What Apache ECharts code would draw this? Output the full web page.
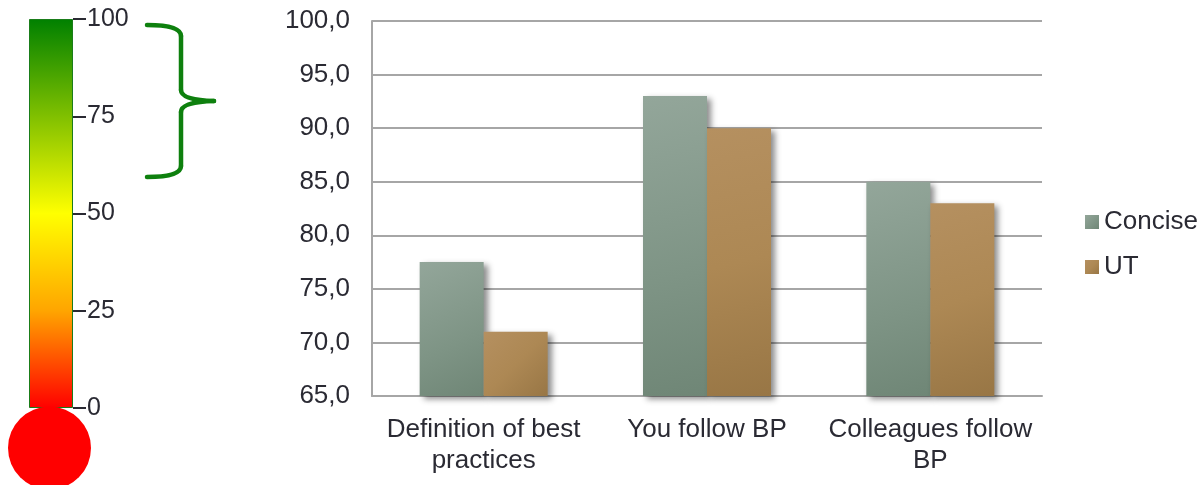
<!DOCTYPE html>
<html>
<head>
<meta charset="utf-8">
<style>
  html, body { margin: 0; padding: 0; background: #fff; }
  #chart { width: 1200px; height: 485px; }
</style>
<script src="https://cdn.jsdelivr.net/npm/echarts@6/dist/echarts.min.js"></script>
</head>
<body>
<div id="chart"></div>
<script>
// Survey scores per question, two groups
const categories = ['Definition of best\npractices', 'You follow BP', 'Colleagues follow\nBP'];
const conciseValues = [77.5, 93.0, 85.0];
const utValues = [71.0, 90.0, 83.0];
const seriesNames = ['Concise', 'UT'];

// Score thermometer scale
const gaugeTicks = [0, 25, 50, 75, 100];
const gaugeValue = [100];

const FONT = '"Liberation Sans", Arial, sans-serif';
const TEXT = '#2a2a33';
const chart = echarts.init(document.getElementById('chart'));

const conciseFill = new echarts.graphic.LinearGradient(0, 0, 1, 1, [
  { offset: 0, color: '#93a69a' },
  { offset: 0.6, color: '#7e9485' },
  { offset: 1, color: '#6f8676' }
]);
const utFill = new echarts.graphic.LinearGradient(0, 0, 1, 1, [
  { offset: 0, color: '#b59060' },
  { offset: 0.5, color: '#ad8854' },
  { offset: 1, color: '#987645' }
]);
const gaugeFill = new echarts.graphic.LinearGradient(0, 0, 0, 1, [
  { offset: 0, color: '#008000' },
  { offset: 0.25, color: '#80c000' },
  { offset: 0.5, color: '#ffff00' },
  { offset: 0.75, color: '#ffa500' },
  { offset: 1, color: '#ff0000' }
]);

const barShadow = {
  shadowColor: 'rgba(0,0,0,0.45)',
  shadowBlur: 6,
  shadowOffsetX: 4,
  shadowOffsetY: 3
};

// curly bracket beside the upper part of the thermometer
const bracketStyle = { stroke: '#0e800e', lineWidth: 4.5, lineCap: 'round', fill: null };
const bracketParts = [
  { type: 'bezierCurve', shape: { x1: 147, y1: 25, cpx1: 181, cpy1: 25, x2: 181, y2: 36 } },
  { type: 'line', shape: { x1: 181, y1: 36, x2: 181, y2: 90 } },
  { type: 'bezierCurve', shape: { x1: 181, y1: 90, cpx1: 181, cpy1: 100, x2: 214, y2: 101 } },
  { type: 'bezierCurve', shape: { x1: 214, y1: 101, cpx1: 181, cpy1: 102, x2: 181, y2: 112 } },
  { type: 'line', shape: { x1: 181, y1: 112, x2: 181, y2: 166 } },
  { type: 'bezierCurve', shape: { x1: 181, y1: 166, cpx1: 181, cpy1: 177, x2: 147, y2: 177 } }
].map(p => Object.assign(p, { style: bracketStyle, z: 10, silent: true }));

chart.setOption({
  animation: false,
  backgroundColor: '#ffffff',
  textStyle: { fontFamily: FONT },
  legend: {
    orient: 'vertical',
    left: 1080,
    top: 204,
    itemWidth: 14,
    itemHeight: 14,
    itemGap: 19,
    icon: 'rect',
    textStyle: { fontSize: 26, color: TEXT, fontFamily: FONT },
    data: seriesNames
  },
  grid: [
    { left: 372, right: 158, top: 21, bottom: 89, containLabel: false },
    { left: 29, width: 44, top: 19, bottom: 77, containLabel: false }
  ],
  xAxis: [
    {
      type: 'category',
      gridIndex: 0,
      data: categories,
      axisLine: { show: true, lineStyle: { color: '#a6a6a6', width: 2 } },
      axisTick: { show: false },
      axisLabel: {
        fontSize: 26,
        color: TEXT,
        lineHeight: 31,
        margin: 18,
        interval: 0
      }
    },
    {
      type: 'category',
      gridIndex: 1,
      data: ['t'],
      show: false
    }
  ],
  yAxis: [
    {
      type: 'value',
      gridIndex: 0,
      min: 65,
      max: 100,
      interval: 5,
      axisLine: { show: true, lineStyle: { color: '#a6a6a6', width: 2 } },
      axisTick: { show: false },
      splitLine: { show: true, lineStyle: { color: '#a6a6a6', width: 2 } },
      axisLabel: {
        fontSize: 26,
        color: TEXT,
        margin: 22,
        formatter: v => v.toFixed(1).replace('.', ',')
      }
    },
    {
      type: 'value',
      gridIndex: 1,
      position: 'right',
      min: gaugeTicks[0],
      max: gaugeTicks[gaugeTicks.length - 1],
      interval: 25,
      axisLine: { show: false },
      axisTick: {
        show: true,
        inside: false,
        length: 13,
        lineStyle: { color: TEXT, width: 2 }
      },
      splitLine: { show: false },
      axisLabel: { fontSize: 25, color: TEXT, margin: 14 }
    }
  ],
  series: [
    {
      name: seriesNames[0],
      type: 'bar',
      xAxisIndex: 0,
      yAxisIndex: 0,
      data: conciseValues,
      barWidth: 64,
      barGap: '0%',
      itemStyle: Object.assign({ color: conciseFill }, barShadow)
    },
    {
      name: seriesNames[1],
      type: 'bar',
      xAxisIndex: 0,
      yAxisIndex: 0,
      data: utValues,
      barWidth: 64,
      barGap: '0%',
      itemStyle: Object.assign({ color: utFill }, barShadow)
    },
    {
      name: 'scale',
      type: 'bar',
      xAxisIndex: 1,
      yAxisIndex: 1,
      data: gaugeValue,
      barWidth: '100%',
      silent: true,
      itemStyle: {
        color: gaugeFill,
        borderColor: '#1a7d1a',
        borderWidth: 1
      },
      z: 2
    }
  ],
  graphic: [
    // thermometer bulb
    {
      type: 'circle',
      shape: { cx: 49.5, cy: 448, r: 41.5 },
      style: { fill: '#ff0000' },
      z: 10
    }
  ].concat(bracketParts)
});
</script>
</body>
</html>
